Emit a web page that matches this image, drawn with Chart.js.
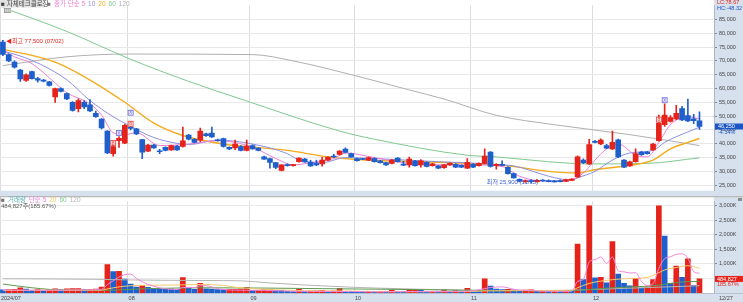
<!DOCTYPE html>
<html>
<head>
<meta charset="utf-8">
<script src="https://cdn.jsdelivr.net/npm/chart.js@4.4.1/dist/chart.umd.min.js"></script>
<style>
html, body { margin: 0; padding: 0; background: #fff; }
#wrap { position: relative; width: 743px; height: 302px; overflow: hidden; }
#priceBox { position: absolute; left: 0; top: 0; width: 743px; height: 196px; }
#volBox { position: absolute; left: 0; top: 196px; width: 743px; height: 106px; }
</style>
</head>
<body>
<div id="wrap">
  <div id="priceBox"><canvas id="priceChart"></canvas></div>
  <div id="volBox"><canvas id="volChart"></canvas></div>
</div>
<script>
// trading days shown (2024/07/02 .. 2024/12/27)
const tradeDays = [
  ['07', [2,3,4,5,8,9,10,11,12,15,16,17,18,19,22,23,24,25,26,29,30,31]],
  ['08', [1,2,5,6,7,8,9,12,13,14,16,19,20,21,22,23,26,27,28,29,30]],
  ['09', [2,3,4,5,6,9,10,11,12,13,19,20,23,24,25,26,27,30]],
  ['10', [2,4,7,8,10,11,14,15,16,17,18,21,22,23,24,25,28,29,30,31]],
  ['11', [1,4,5,6,7,8,11,12,13,14,15,18,19,20,21,22,25,26,27,28,29]],
  ['12', [2,3,4,5,6,9,10,11,12,13,16,17,18,19,20,23,24,26,27]]
];
const monthTickText = ['2024/07', '08', '09', '10', '11', '12'];
const priceTicks = [25000, 30000, 35000, 40000, 45000, 50000, 55000, 60000, 65000, 70000, 75000, 80000, 85000];
const volTicks = [500, 1000, 1500, 2000, 2500, 3000];

const opens = [76800,72300,69600,66700,62900,66100,63600,63000,62400,57000,
  60000,58200,55000,52700,55000,54100,51000,48900,44600,36400,
  41100,40250,46000,45400,41500,37350,39550,37300,38700,37800,
  39200,39000,43100,41650,41300,43600,43900,41400,41900,38700,
  38500,39000,37600,39300,38400,35250,34650,33150,30350,32300,
  32100,33500,34450,33400,32900,32700,34100,35400,36150,38050,
  36400,34650,34500,34100,34650,33850,33150,32900,34800,32550,
  32350,33750,32350,33250,32100,32000,31300,32350,32550,32200,
  31150,32550,32100,32900,37000,32100,32550,31500,29200,27100,
  26300,26700,26300,26800,26600,26500,26700,26400,26700,28000,
  34100,32700,40850,39900,39350,38150,41450,34100,32000,33500,
  37000,37000,37800,41100,46900,48100,49000,52700,50200,49000,
  48300];
const highs = [77500,72600,70000,67000,65300,66300,64100,63300,62600,60200,
  60300,58400,55300,56300,55600,56000,51800,49100,44800,41100,
  42600,47000,46500,45600,41600,39800,39800,38000,38900,39500,
  39400,46000,43400,41900,45700,43900,46000,41700,42100,38900,
  41300,39300,41300,39600,38600,35500,34800,33300,32500,32700,
  32500,34900,34700,34000,34100,35100,35300,36200,37500,38500,
  36600,34800,34700,35200,34900,34000,33300,34400,35000,33600,
  35200,34000,34300,33500,32900,32200,32500,33100,32800,32400,
  34650,32800,33100,38150,37200,32800,33800,31700,29400,27300,
  26900,27000,27100,27000,26900,26700,26900,27200,27400,35600,
  34500,41650,41200,41800,39800,44600,41700,34300,33700,38150,
  37300,37300,40200,50400,54500,50200,53900,53600,56200,50700,
  51600];
const lows = [71900,69700,67400,62600,62600,63400,62300,62400,60900,55000,
  58800,56000,51800,51500,52700,51600,49500,45400,36400,35500,
  38700,40000,45000,43300,34600,37100,38300,36400,37400,37600,
  37600,38800,41400,40300,40800,42700,42300,40900,38800,37900,
  37900,37400,37400,38000,37400,34300,31150,31000,30200,31900,
  31900,33300,33200,31800,32100,31900,33900,35000,35900,36700,
  35100,33700,34200,33900,33300,33000,32200,32700,33300,32100,
  31500,31900,31500,31600,31900,31000,31100,32200,31300,31300,
  31000,31300,31900,32700,31500,30800,32000,29000,27500,26200,
  26000,25900,26100,26400,26200,26100,26200,26300,26600,27800,
  32800,32500,40300,39700,38200,37900,35000,31300,31800,33300,
  35800,36200,37600,40900,46300,47800,48700,48400,48000,47300,
  45200];
const closes = [72400,70000,67700,63500,65000,63600,63000,62700,61100,60000,
  59000,56200,52100,55600,53300,51900,49800,45700,36700,39000,
  42000,46700,45600,43600,37000,39550,38500,37100,37600,39300,
  37800,41100,41650,40500,44600,42900,42500,41100,39000,38100,
  39900,37600,39200,38150,37600,34450,33250,31400,32350,32100,
  32200,34800,33400,32000,32350,34100,35150,35200,37350,36900,
  35250,33850,34300,35000,33500,33150,32350,34100,33500,32250,
  34450,32100,33850,31750,32700,31150,32350,32900,31500,31500,
  33250,31500,32900,35500,31750,32550,32200,29200,27650,26400,
  26700,26300,26800,26500,26300,26200,26300,27000,27200,35250,
  33150,39700,40500,41300,38400,40500,35250,31500,33500,36400,
  36050,36400,39900,47500,50400,49500,51000,48650,48300,48350,
  46250];
// volume, thousands of shares
const volumes = [105,115,125,175,135,95,115,95,105,145,
  115,145,150,155,115,125,135,205,980,740,
  750,480,310,200,260,195,165,145,140,135,
  125,535,195,125,335,145,135,120,115,125,
  130,135,195,92,95,115,125,95,90,55,
  45,125,55,70,75,90,60,70,160,60,
  50,45,40,60,40,60,45,90,45,40,
  100,105,95,50,55,45,115,45,90,45,
  160,60,55,490,235,135,120,125,105,85,
  100,110,65,80,65,75,65,90,75,1690,
  460,3000,520,540,350,1770,650,335,245,505,
  170,210,460,3000,1960,335,930,537,1175,261.123,
  484.827];

// moving averages: [day index, value]
const ma5 = [[0,73700],[2,71500],[5,69050],[9,62000],[11,58500],[15,54450],[17,50400],[19,44000],[21,43300],[23,44000],[27,39350],[32,39900],[37,41100],[43,38750],[47,34650],[50,32350],[54,33500],[57,34650],[59,36650],[64,35000],[69,33150],[75,32400],[81,32350],[86,31750],[89,28250],[93,26500],[98,27050],[100,29400],[102,34100],[104,38150],[106,39900],[109,35850],[111,35250],[113,40500],[115,46900],[118,49800],[120,49000]];
const ma10 = [[0,73700],[5,70200],[11,63200],[15,55650],[19,49800],[22,46300],[26,42250],[30,40150],[32,39700],[37,41300],[43,39900],[49,36400],[51,34100],[55,33150],[59,35000],[64,34650],[75,33500],[82,32900],[86,32350],[88,32000],[94,28250],[96,27300],[98,26850],[99,27650],[102,30000],[105,34100],[108,36650],[112,37600],[114,40500],[118,44300],[120,46000]];
const ma20 = [[0,74300],[9,69600],[14,64350],[21,55050],[26,47500],[31,43000],[38,39900],[49,37600],[56,35250],[61,34300],[80,32900],[87,32000],[94,30000],[99,29400],[102,30600],[108,32200],[112,34100],[115,38150],[118,40500],[120,41900]];
const ma60 = [[0,89300],[11,80700],[22,70600],[32,62600],[41,56200],[58,44600],[64,41650],[80,35850],[85,35250],[94,33500],[101,32700],[111,32900],[120,34900]];
const ma120 = [[0,68300],[11,71500],[22,72500],[43,72300],[50,70000],[61,64500],[70,59500],[76,56200],[85,50300],[95,46900],[108,43300],[120,39350]];

const vma5 = [[0,100],[8,95],[14,105],[17,130],[18,290],[19,420],[20,550],[21,630],[22,650],[23,500],[24,390],[25,300],[27,180],[30,120],[31,190],[33,190],[34,250],[35,250],[37,150],[39,105],[45,90],[50,60],[55,55],[60,50],[65,40],[70,50],[75,50],[80,60],[83,150],[84,190],[86,210],[88,130],[90,90],[95,55],[98,60],[99,400],[100,470],[101,1070],[102,1150],[103,1240],[104,1020],[105,1240],[106,760],[107,730],[108,690],[109,700],[110,400],[111,260],[112,320],[113,850],[114,1185],[115,1250],[116,1330],[117,1350],[118,1200],[119,740],[120,680]];
const vma20 = [[0,90],[10,95],[17,100],[18,140],[20,210],[22,250],[26,270],[30,275],[34,295],[38,260],[40,200],[43,150],[47,110],[52,80],[58,70],[65,50],[72,45],[80,50],[83,70],[88,80],[95,90],[98,95],[99,180],[101,330],[105,460],[108,500],[111,537],[113,700],[114,795],[116,880],[118,940],[120,850]];
const vma60 = [[0,310],[5,180],[11,95],[17,90],[25,150],[35,180],[45,170],[55,150],[65,130],[75,110],[85,85],[95,75],[99,90],[105,180],[111,235],[114,300],[117,380],[120,400]];
const vma120 = [[0,490],[17,470],[22,450],[35,430],[41,420],[46,346],[60,200],[70,140],[81,90],[95,85],[100,110],[110,180],[120,250]];

// signal markers (day index)
const sigX = [20, 22, 114];
const sig8 = [19, 22, 113];

// ---------------------------------------------------------------
const RED = '#e5231b', BLUE = '#1f5fcc';
const AXIS_BG = '#d7e1ee';
const MA_COLORS = ['#ef7fd6', '#8c90e2', '#f4ab1c', '#80c98f', '#b0b0b0'];
const VMA_COLORS = ['#ef86d8', '#f7c96c', '#5f9a4f', '#b5b5b5'];
const FONT = '"Liberation Sans", "Noto Sans CJK KR", sans-serif';
const F = s => s + 'px ' + FONT;

const labels = [];
const monthStart = new Map();
tradeDays.forEach(([mm, days], m) => {
  monthStart.set(labels.length, monthTickText[m]);
  days.forEach(d => labels.push(mm + '/' + String(d).padStart(2, '0')));
});
const N = labels.length;
const xLabels = labels.concat(['', '']);
const SLOTS = xLabels.length;

function full(pairs) {
  const a = new Array(SLOTS).fill(null);
  pairs.forEach(p => { a[p[0]] = p[1]; });
  return a;
}
const fmt = v => Math.round(v).toLocaleString('en-US');
const candleCol = opens.map((o, i) => closes[i] >= o ? RED : BLUE);
const volCol = volumes.map((v, i) => (i > 0 && v > volumes[i - 1]) ? RED : BLUE);

function xScaleOpts(showLabels) {
  return {
    type: 'category',
    offset: true,
    grid: {
      offset: true,
      drawTicks: false,
      lineWidth: 1,
      color: ctx => monthStart.has(ctx.index) ? '#dcdcdc' : 'rgba(0,0,0,0)'
    },
    border: { display: false },
    ticks: {
      display: showLabels,
      autoSkip: false,
      maxRotation: 0,
      align: 'start',
      labelOffset: -2,
      padding: 2,
      color: '#444',
      font: { size: 5.5 },
      callback: (v, i) => monthStart.has(i) ? monthStart.get(i) : ''
    },
    afterFit: s => { s.height = showLabels ? 9 : 0; }
  };
}

function yScaleOpts(min, max, tickList, fmtTick) {
  return {
    position: 'right',
    min: min,
    max: max,
    afterFit: s => { s.width = 29; },
    afterBuildTicks: s => { s.ticks = tickList.map(v => ({ value: v })); },
    grid: { color: '#e9e9e9', tickLength: 3, tickColor: '#7d8ba0' },
    border: { display: true, color: '#a9b7ca' },
    ticks: { padding: 2, color: '#444', font: { size: 5.5 }, callback: fmtTick }
  };
}

const bgPlugin = {
  id: 'bg',
  beforeDraw(chart) {
    const { ctx, chartArea: a, width, height } = chart;
    ctx.save();
    ctx.fillStyle = AXIS_BG;
    ctx.fillRect(0, 0, width, height);
    ctx.fillStyle = '#fff';
    ctx.fillRect(0, 0, a.right, a.bottom);
    ctx.strokeStyle = '#c4c4c4';
    ctx.beginPath(); ctx.moveTo(0.5, 0); ctx.lineTo(0.5, a.bottom); ctx.stroke();
    ctx.restore();
  }
};

function drawLegend(ctx, x, y, parts) {
  parts.forEach(([t, c]) => {
    ctx.fillStyle = c;
    ctx.fillText(t, x, y);
    x += ctx.measureText(t).width + 3;
  });
}

const priceText = {
  id: 'priceText',
  afterDraw(chart) {
    const { ctx, chartArea: a, scales: { x, y } } = chart;
    ctx.save();
    ctx.textBaseline = 'middle';
    ctx.textAlign = 'left';

    // legend row
    ctx.font = F(6.5);
    ctx.fillStyle = '#e2e2e2';
    ctx.fillRect(0, 0, 44, 7.5);
    ctx.fillStyle = '#444';
    ctx.fillText('■ 자체테크클로징', 1, 4);
    drawLegend(ctx, 47, 4, [['■', '#777'], ['종가 단순 5', MA_COLORS[0]], ['10', MA_COLORS[1]],
      ['20', MA_COLORS[2]], ['60', MA_COLORS[3]], ['120', MA_COLORS[4]]]);
    ctx.fillStyle = '#a0a0a0';
    ctx.fillRect(4, 8, 7, 5);
    ctx.fillStyle = '#fff';
    for (let k = 0; k < 3; k++) ctx.fillRect(5.5 + k * 2, 9, 0.8, 3);

    // highest / lowest
    let iMax = 0, iMin = 0;
    for (let i = 1; i < N; i++) {
      if (highs[i] > highs[iMax]) iMax = i;
      if (lows[i] < lows[iMin]) iMin = i;
    }
    ctx.font = F(6);
    ctx.fillStyle = RED;
    ctx.fillText('◀최고 ' + fmt(highs[iMax]) + ' (' + labels[iMax] + ')',
      x.getPixelForValue(iMax) + 3, y.getPixelForValue(highs[iMax]) + 1);
    ctx.fillStyle = '#3b5fd0';
    ctx.textAlign = 'right';
    ctx.fillText('최저 ' + fmt(lows[iMin]) + ' (' + labels[iMin] + ')',
      x.getPixelForValue(iMin) + 7, y.getPixelForValue(lows[iMin]));

    // signal boxes
    ctx.textAlign = 'center';
    ctx.font = F(5);
    const box = (cx, top, fill, stroke, txt) => {
      ctx.fillStyle = fill;
      ctx.fillRect(cx - 2.5, top, 5, 5);
      ctx.strokeStyle = stroke;
      ctx.lineWidth = 0.8;
      ctx.strokeRect(cx - 2.5, top, 5, 5);
      ctx.fillStyle = stroke;
      ctx.fillText(txt, cx, top + 2.8);
    };
    sig8.forEach(i => {
      const cx = x.getPixelForValue(i);
      box(cx, y.getPixelForValue(Math.max(opens[i], closes[i])) - 6, '#fde3e3', '#e0443c', '8');
    });
    sigX.forEach(i => {
      const cx = x.getPixelForValue(i);
      let top = y.getPixelForValue(highs[i]) - 6;
      if (sig8.includes(i)) {
        top = Math.min(top, y.getPixelForValue(Math.max(opens[i], closes[i])) - 17);
      }
      box(cx, top, '#ecebff', '#6f6ad6', 'X');
    });

    // current price tag
    const last = closes[N - 1], prev = closes[N - 2];
    const py = y.getPixelForValue(last);
    ctx.fillStyle = '#1b55c8';
    ctx.fillRect(a.right + 1, py - 3, chart.width - a.right - 1, 6);
    ctx.textAlign = 'left';
    ctx.font = F(5.5);
    ctx.fillStyle = '#fff';
    ctx.fillText(fmt(last), a.right + 4, py + 0.3);
    ctx.fillStyle = '#1b55c8';
    ctx.fillText(((last - prev) / prev * 100).toFixed(2) + '%', a.right + 4, py + 6);

    // top right info
    ctx.fillStyle = RED;
    ctx.fillText('LC:78.67', a.right + 3, 2);
    ctx.fillStyle = '#1b55c8';
    ctx.fillText('HC:-48.32', a.right + 3, 8);
    ctx.restore();
  }
};

const volText = {
  id: 'volText',
  afterDraw(chart) {
    const { ctx, chartArea: a, scales: { x, y } } = chart;
    ctx.save();
    ctx.textBaseline = 'middle';
    ctx.textAlign = 'left';
    // panel separator
    ctx.strokeStyle = '#b9b9b9';
    ctx.lineWidth = 1.5;
    ctx.beginPath(); ctx.moveTo(0, 0.5); ctx.lineTo(chart.width, 0.5); ctx.stroke();
    // x-axis band border
    ctx.strokeStyle = '#b4c0d0';
    ctx.lineWidth = 1;
    ctx.beginPath(); ctx.moveTo(0, a.bottom + 0.5); ctx.lineTo(chart.width, a.bottom + 0.5); ctx.stroke();

    const lastV = volumes[N - 1], prevV = volumes[N - 2];
    const ratio = (lastV / prevV * 100).toFixed(2) + '%';
    ctx.font = F(6.5);
    drawLegend(ctx, 1, 4, [['■', '#777'], ['거래량', '#59aeb0'], ['단순 5', VMA_COLORS[0]],
      ['20', VMA_COLORS[1]], ['60', '#84c890'], ['120', VMA_COLORS[3]]]);
    ctx.fillStyle = '#555';
    ctx.font = F(6);
    ctx.fillText(fmt(lastV * 1000) + '주(' + ratio + ')', 1, 10.5);

    // volume tag
    const py = y.getPixelForValue(lastV);
    ctx.fillStyle = RED;
    ctx.fillRect(a.right + 1, py - 3, chart.width - a.right - 1, 6);
    ctx.font = F(5.5);
    ctx.fillStyle = '#fff';
    ctx.fillText(fmt(lastV * 1000), a.right + 3, py + 0.3);
    ctx.fillStyle = RED;
    ctx.fillText(ratio, a.right + 3, py + 6);

    // last date
    ctx.fillStyle = '#444';
    ctx.fillText(labels[N - 1], a.right + 5, a.bottom + 5);
    // small panel button
    ctx.fillStyle = '#8c8c8c';
    ctx.fillRect(chart.width - 5, 2, 4, 3);
    ctx.restore();
  }
};

function lineDs(pairs, color, width, order) {
  return {
    type: 'line', data: full(pairs), borderColor: color, borderWidth: width,
    pointRadius: 0, spanGaps: true, cubicInterpolationMode: 'monotone', order: order
  };
}

Chart.defaults.font.family = FONT;

new Chart(document.getElementById('priceChart'), {
  type: 'bar',
  data: {
    labels: xLabels,
    datasets: [
      { data: opens.map((o, i) => [o, closes[i]]), backgroundColor: candleCol,
        barThickness: 5, minBarLength: 1, grouped: false, order: 0 },
      { data: lows.map((l, i) => [l, highs[i]]), backgroundColor: candleCol,
        barThickness: 1, grouped: false, order: 1 },
      lineDs(ma5, MA_COLORS[0], 1, 2),
      lineDs(ma10, MA_COLORS[1], 1, 3),
      lineDs(ma20, MA_COLORS[2], 1.4, 4),
      lineDs(ma60, MA_COLORS[3], 1, 5),
      lineDs(ma120, MA_COLORS[4], 1, 6)
    ]
  },
  options: {
    responsive: true,
    maintainAspectRatio: false,
    animation: false,
    devicePixelRatio: 1,
    layout: { padding: { top: 3, bottom: 1, left: 0, right: 0 } },
    plugins: { legend: { display: false }, tooltip: { enabled: false } },
    scales: {
      x: xScaleOpts(false),
      y: yScaleOpts(23000, 90150, priceTicks, v => fmt(v))
    }
  },
  plugins: [bgPlugin, priceText]
});

new Chart(document.getElementById('volChart'), {
  type: 'bar',
  data: {
    labels: xLabels,
    datasets: [
      { data: volumes, backgroundColor: volCol, barThickness: 5, minBarLength: 1, order: 5 },
      lineDs(vma5, VMA_COLORS[0], 1, 0),
      lineDs(vma20, VMA_COLORS[1], 1, 1),
      lineDs(vma60, VMA_COLORS[2], 1, 2),
      lineDs(vma120, VMA_COLORS[3], 1, 3)
    ]
  },
  options: {
    responsive: true,
    maintainAspectRatio: false,
    animation: false,
    devicePixelRatio: 1,
    layout: { padding: { top: 1.5, bottom: 0, left: 0, right: 0 } },
    plugins: { legend: { display: false }, tooltip: { enabled: false } },
    scales: {
      x: xScaleOpts(true),
      y: yScaleOpts(0, 3160, volTicks, v => fmt(v) + 'K')
    }
  },
  plugins: [bgPlugin, volText]
});
</script>
</body>
</html>
